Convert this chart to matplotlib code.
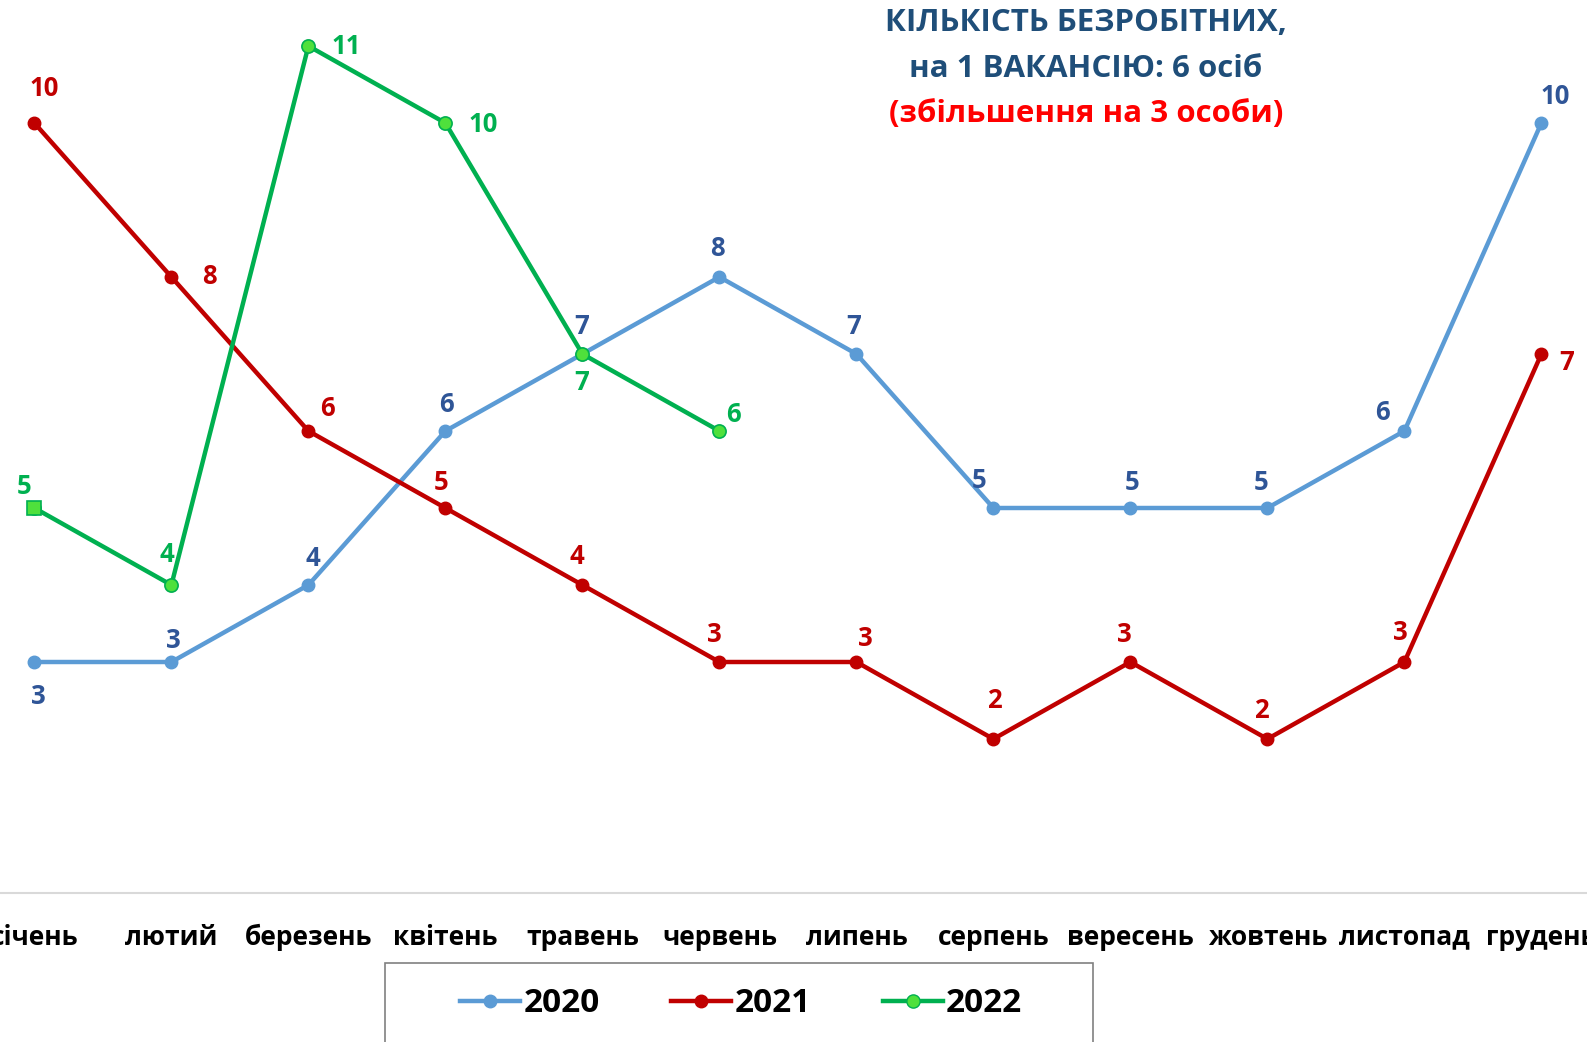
import matplotlib
matplotlib.use("Agg")
import matplotlib.pyplot as plt
from matplotlib.lines import Line2D
from matplotlib.patches import Rectangle

months = ["січень", "лютий", "березень", "квітень", "травень", "червень",
          "липень", "серпень", "вересень", "жовтень", "листопад", "грудень"]
v2020 = [3, 3, 4, 6, 7, 8, 7, 5, 5, 5, 6, 10]
v2021 = [10, 8, 6, 5, 4, 3, 3, 2, 3, 2, 3, 7]
v2022 = [5, 4, 11, 10, 7, 6]

# label offsets in pixels (dx, dy), style only
off2020 = [(4, -35), (2, 22), (4, 26), (1, 26), (-1, 28), (-2, 28), (-3, 28),
           (-14, 28), (2, 26), (-6, 26), (-22, 18), (14, 26)]
off2021 = [(10, 34), (38, 0), (19, 23), (-4, 26), (-6, 29), (-5, 28), (9, 24),
           (1, 38), (-6, 28), (-6, 28), (-4, 30), (25, -8)]
off2022 = [(-10, 22), (-5, 30), (38, -1), (38, -2), (-1, -28), (14, 17)]

FONT = ["Open Sans", "DejaVu Sans"]
plt.rcParams['font.family'] = FONT
plt.rcParams['font.weight'] = 'bold'

C20, C20T = "#5B9BD5", "#2F5597"
C21, C21T = "#C00000", "#C00000"
C22, C22T, C22F = "#00B050", "#00B050", "#4FE03C"

fig = plt.figure(figsize=(15.87, 10.42), dpi=100)
ax = fig.add_axes([0, 149 / 1042, 1, 893 / 1042])

x12 = list(range(12))
x6 = list(range(len(v2022)))

LW = 3.2
ax.plot(x12, v2020, color=C20, lw=LW, marker='o', ms=9, mfc=C20, mec=C20, zorder=3)
ax.plot(x12, v2021, color=C21, lw=LW, marker='o', ms=9, mfc=C21, mec=C21, zorder=3)
ax.plot(x6, v2022, color=C22, lw=LW, marker='o', ms=9.5, mfc=C22F, mec=C22, mew=1.2, zorder=4)
# first 2022 point drawn as square
ax.plot(x6[:1], v2022[:1], ls='none', marker='s', ms=10, mfc=C22F, mec=C22, mew=1.2, zorder=5)

def labels(xs, vs, offs, col):
    for xi, vi, (dx, dy) in zip(xs, vs, offs):
        ax.annotate(str(vi), (xi, vi), xytext=(dx, dy), textcoords='offset pixels',
                    ha='center', va='center', fontsize=18.5, fontweight='bold',
                    color=col, zorder=6)

labels(x12, v2020, off2020, C20T)
labels(x12, v2021, off2021, C21T)
labels(x6, v2022, off2022, C22T)

step = 137.0
x0px = 34.4
ax.set_xlim(-x0px / step, (1587 - x0px) / step)
ax.set_ylim(0, 893 / 77.0)
ax.set_xticks(x12)
ax.set_xticklabels(months, fontsize=19, fontweight='bold', color='black')
ax.tick_params(axis='x', length=0, pad=22)
ax.set_yticks([])
for s in ['top', 'right', 'left']:
    ax.spines[s].set_visible(False)
ax.spines['bottom'].set_color('#D9D9D9')
ax.spines['bottom'].set_linewidth(1.5)

# title
TX = 1086 / 1587
fig.text(TX, 1 - 23 / 1042, "КІЛЬКІСТЬ БЕЗРОБІТНИХ,", ha='center', va='center',
         fontsize=22.5, fontweight='bold', color="#1F4E79")
fig.text(TX, 1 - 69 / 1042, "на 1 ВАКАНСІЮ: 6 осіб", ha='center', va='center',
         fontsize=22.5, fontweight='bold', color="#1F4E79")
fig.text(TX, 1 - 114 / 1042, "(збільшення на 3 особи)", ha='center', va='center',
         fontsize=22.5, fontweight='bold', color="#FF0000")

# legend box
fig.patches.append(Rectangle((385 / 1587, -0.05), (1093 - 385) / 1587, (1042 - 963) / 1042 + 0.05,
                             transform=fig.transFigure, fill=False, ec='#808080', lw=1.2))
handles = [
    Line2D([], [], color=C20, lw=LW, marker='o', ms=9, mfc=C20, mec=C20),
    Line2D([], [], color=C21, lw=LW, marker='o', ms=9, mfc=C21, mec=C21),
    Line2D([], [], color=C22, lw=LW, marker='o', ms=9.5, mfc=C22F, mec=C22),
]
leg = fig.legend(handles, ["2020", "2021", "2022"], loc='center',
                 bbox_to_anchor=(741 / 1587, 1 - 1004 / 1042), ncol=3, frameon=False,
                 prop={'family': FONT, 'weight': 'bold', 'size': 24},
                 handlelength=1.8, handletextpad=0.1, columnspacing=2.15)

fig.savefig("out.png", dpi=100)
